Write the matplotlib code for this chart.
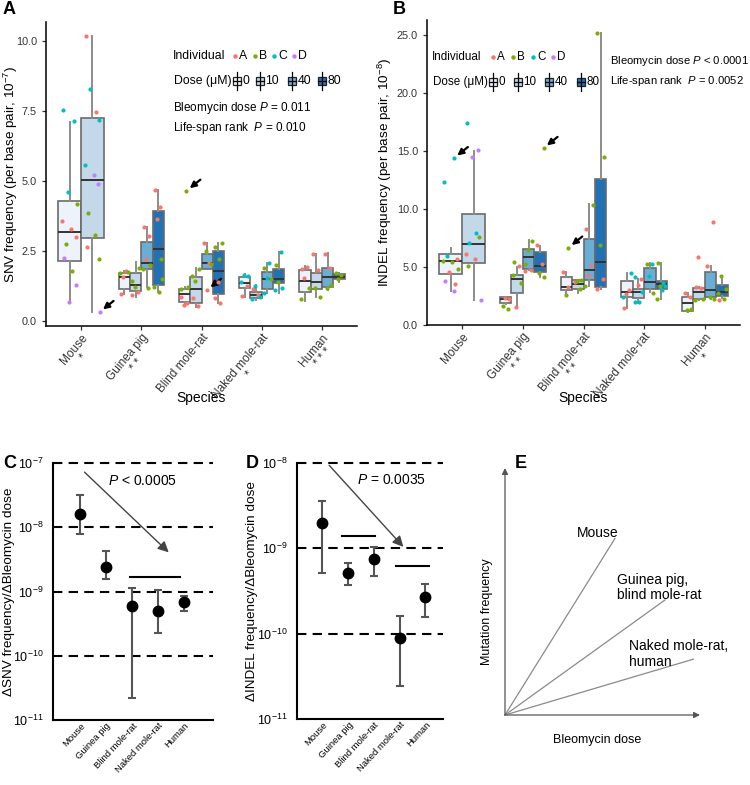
import math
import matplotlib
matplotlib.use('Agg')
import matplotlib.pyplot as plt
from matplotlib.patches import Rectangle
from matplotlib.ticker import NullLocator

plt.rcParams['font.family'] = ['Liberation Sans', 'DejaVu Sans']
plt.rcParams['mathtext.fontset'] = 'custom'
plt.rcParams['mathtext.rm'] = 'Liberation Sans'
plt.rcParams['mathtext.it'] = 'Liberation Sans:italic'
plt.rcParams['mathtext.bf'] = 'Liberation Sans:bold'

species = ['Mouse', 'Guinea pig', 'Blind mole-rat', 'Naked mole-rat', 'Human']
doses = [0, 10, 40, 80]
individuals = ['A', 'B', 'C', 'D']
ind_colors = ['#F8766D', '#7CAE00', '#00BFC4', '#C77CFF']
dose_colors = ['#EEF3FB', '#C3D8E8', '#6AAED6', '#2171B5']

snv_stars = ['*', '* *', '', '*', '* * *']
indel_stars = ['', '* *', '* *', '', '*']

# box stats per species, per dose: (whisker low, q1, median, q3, whisker high)
snv_box = [
    [(0.69, 2.13, 3.17, 4.27, 7.12), (0.33, 2.95, 5.04, 7.26, 10.18), None, None],
    [(0.95, 1.13, 1.58, 1.70, 1.80), (0.87, 1.08, 1.27, 1.73, 2.12), (1.23, 1.85, 2.08, 2.81, 3.37), (1.05, 1.29, 2.57, 3.94, 4.67)],
    [(0.57, 0.69, 0.95, 1.13, 1.20), (0.49, 0.63, 1.13, 1.56, 1.88), (1.85, 1.85, 2.08, 2.38, 2.77), (0.63, 0.95, 1.80, 2.50, 2.80)],
    [(0.87, 1.17, 1.35, 1.56, 1.67), (0.76, 0.81, 0.93, 1.05, 1.29), (0.99, 1.13, 1.49, 1.74, 2.06), (0.99, 1.35, 1.49, 1.85, 2.45)],
    [(0.71, 1.05, 1.43, 1.82, 1.98), (0.87, 1.13, 1.40, 1.70, 2.38), (1.11, 1.23, 1.56, 1.88, 2.42), (1.40, 1.49, 1.58, 1.67, 1.73)],
]
indel_box = [
    [(2.96, 4.38, 5.53, 6.10, 6.62), (2.16, 5.38, 6.99, 9.56, 15.0), None, None],
    [(1.80, 1.87, 2.22, 2.39, 2.45), (1.58, 2.74, 3.97, 4.32, 5.04), (4.70, 4.81, 5.90, 6.56, 7.34), (4.12, 4.60, 5.12, 6.33, 6.80)],
    [(2.59, 3.02, 3.25, 4.17, 4.60), (2.80, 3.08, 3.54, 3.89, 3.89), (3.37, 3.89, 4.75, 7.43, 10.42), (3.08, 3.26, 5.47, 12.58, 25.19)],
    [(1.44, 2.45, 2.82, 3.80, 4.52), (1.87, 2.30, 2.88, 3.11, 3.95), (2.88, 3.11, 3.69, 4.90, 5.33), (2.25, 3.08, 3.51, 3.80, 5.33)],
    [(1.15, 1.24, 1.87, 2.45, 2.74), (2.16, 2.22, 2.88, 3.22, 3.30), (2.22, 2.45, 3.02, 4.55, 5.10), (2.36, 2.53, 2.88, 3.45, 4.23)],
]

# points per species: (dose, individual, value)
snv_pts = [
    [(0, 'C', 7.54), (0, 'C', 7.15), (0, 'C', 4.62), (0, 'B', 4.18), (0, 'A', 3.56), (0, 'A', 3.30),
     (0, 'A', 3.00), (0, 'B', 2.75), (0, 'B', 1.80), (0, 'D', 2.24), (0, 'D', 1.29), (0, 'D', 0.69),
     (10, 'A', 10.19), (10, 'A', 7.46), (10, 'C', 8.27), (10, 'C', 7.18), (10, 'C', 5.57), (10, 'D', 5.21),
     (10, 'D', 4.88), (10, 'B', 3.85), (10, 'B', 3.08), (10, 'A', 2.65), (10, 'B', 2.21)],
    [(0, 'A', 0.95), (0, 'A', 1.80), (0, 'A', 1.56), (0, 'B', 1.74), (0, 'B', 1.70),
     (10, 'A', 0.93), (10, 'A', 1.05), (10, 'B', 1.20), (10, 'B', 1.88), (10, 'B', 1.44),
     (40, 'A', 3.37), (40, 'A', 3.04), (40, 'A', 2.20), (40, 'B', 2.00), (40, 'B', 1.85), (40, 'B', 1.19),
     (80, 'A', 4.67), (80, 'A', 4.06), (80, 'A', 3.65), (80, 'B', 1.50), (80, 'B', 1.20), (80, 'B', 1.04), (80, 'B', 2.20)],
    [(0, 'A', 0.87), (0, 'A', 0.63), (0, 'A', 0.57), (0, 'B', 1.20), (0, 'B', 1.13),
     (10, 'A', 0.81), (10, 'A', 0.54), (10, 'B', 1.44), (10, 'B', 1.86), (10, 'B', 1.62),
     (40, 'A', 2.78), (40, 'A', 2.08), (40, 'B', 2.51), (40, 'B', 2.04),
     (80, 'A', 0.81), (80, 'A', 0.65), (80, 'A', 1.40), (80, 'B', 2.78), (80, 'B', 2.63), (80, 'B', 2.21)],
    [(0, 'A', 0.89), (0, 'A', 1.26), (0, 'C', 1.64), (0, 'C', 1.62), (0, 'C', 1.40),
     (10, 'A', 1.14), (10, 'A', 0.93), (10, 'C', 1.26), (10, 'C', 0.85), (10, 'C', 0.80),
     (40, 'B', 1.88), (40, 'C', 2.06), (40, 'C', 1.52), (40, 'B', 1.50), (40, 'C', 0.99),
     (80, 'B', 2.00), (80, 'C', 2.45), (80, 'B', 1.40), (80, 'C', 1.17), (80, 'C', 1.10)],
    [(0, 'A', 1.86), (0, 'A', 1.94), (0, 'A', 1.52), (0, 'B', 1.17), (0, 'B', 0.79),
     (10, 'A', 2.38), (10, 'A', 1.82), (10, 'B', 1.17), (10, 'B', 0.87),
     (40, 'A', 2.38), (40, 'A', 1.90), (40, 'B', 1.17), (40, 'B', 1.27),
     (80, 'B', 1.70), (80, 'B', 1.65), (80, 'B', 1.50)],
]
indel_pts = [
    [(0, 'C', 12.32), (0, 'A', 3.54), (0, 'A', 4.60), (0, 'B', 4.84), (0, 'B', 5.53), (0, 'B', 5.40),
     (0, 'A', 5.70), (0, 'C', 5.96), (0, 'D', 2.96), (0, 'D', 3.80),
     (10, 'C', 17.39), (10, 'D', 15.05), (10, 'D', 14.48), (10, 'D', 2.16), (10, 'A', 6.13), (10, 'A', 5.67),
     (10, 'B', 7.57), (10, 'C', 7.06), (10, 'C', 7.92), (10, 'B', 5.10)],
    [(0, 'B', 1.64), (0, 'B', 1.38), (0, 'A', 2.33), (0, 'A', 2.20),
     (10, 'B', 5.42), (10, 'A', 5.10), (10, 'A', 1.58), (10, 'B', 3.60), (10, 'B', 4.32),
     (40, 'A', 4.63), (40, 'A', 4.77), (40, 'B', 6.50), (40, 'B', 7.28), (40, 'B', 5.27),
     (80, 'A', 6.88), (80, 'A', 5.22), (80, 'B', 4.50), (80, 'B', 4.10)],
    [(0, 'A', 4.60), (0, 'A', 3.25), (0, 'B', 2.59),
     (10, 'A', 3.69), (10, 'B', 3.08), (10, 'B', 3.80), (10, 'B', 3.89),
     (40, 'A', 8.26), (40, 'A', 5.20), (40, 'A', 4.32), (40, 'B', 10.39), (40, 'B', 3.40),
     (80, 'A', 3.11), (80, 'A', 4.00), (80, 'B', 6.93), (80, 'B', 14.45), (80, 'B', 25.19)],
    [(0, 'A', 1.44), (0, 'A', 3.02), (0, 'A', 2.65), (0, 'C', 4.46), (0, 'C', 2.45),
     (10, 'C', 4.12), (10, 'A', 3.97), (10, 'A', 3.45), (10, 'C', 2.88), (10, 'C', 2.01), (10, 'C', 1.95),
     (40, 'B', 5.27), (40, 'C', 5.27), (40, 'C', 4.20), (40, 'B', 2.74),
     (80, 'B', 5.38), (80, 'C', 3.66), (80, 'B', 3.37), (80, 'C', 3.40), (80, 'B', 2.25), (80, 'C', 3.00)],
    [(0, 'A', 2.74), (0, 'A', 2.45), (0, 'B', 1.29), (0, 'B', 1.38),
     (10, 'A', 3.25), (10, 'A', 3.15), (10, 'A', 5.90), (10, 'B', 2.25), (10, 'B', 2.16),
     (40, 'A', 5.10), (40, 'A', 8.84), (40, 'B', 2.45), (40, 'B', 2.27),
     (80, 'A', 2.16), (80, 'B', 2.25), (80, 'B', 4.23), (80, 'B', 3.11), (80, 'B', 2.80)],
]

# points pointed at by arrows: (species index, dose, individual, value)
snv_marked = [(0, 10, 'D', 0.32), (2, 0, 'B', 4.65), (2, 40, 'A', 1.11)]
indel_marked = [(0, 0, 'C', 14.39), (1, 80, 'B', 15.26), (2, 0, 'B', 6.67)]
snv_marked_shift = [0.33, 0.17, 0.0]
indel_marked_shift = [0.14, 0.33, 0.17]

# panels C and D: rate per bleomycin dose with error range
snv_rate = [1.58e-8, 2.4e-9, 5.9e-10, 5.0e-10, 6.8e-10]
snv_lo = [7.9e-9, 1.58e-9, 2.2e-11, 2.3e-10, 5.0e-10]
snv_hi = [3.2e-8, 4.3e-9, 1.14e-9, 1.06e-9, 8.4e-10]
indel_rate = [2.0e-9, 5.2e-10, 7.6e-10, 8.9e-11, 2.69e-10]
indel_lo = [5.2e-10, 3.75e-10, 4.8e-10, 2.46e-11, 1.57e-10]
indel_hi = [3.56e-9, 6.7e-10, 1.04e-9, 1.6e-10, 3.86e-10]

# panel E schematic
e_labels = ['Mouse', 'Guinea pig,\nblind mole-rat', 'Naked mole-rat,\nhuman']
e_end_x = [0.564, 0.821, 0.966]
e_end_y = [0.715, 0.466, 0.226]

W, H = 750, 785
fig = plt.figure(figsize=(7.5, 7.85), dpi=100)


def px_axes(l, t, r, b):
    return fig.add_axes([l / W, 1 - b / H, (r - l) / W, (b - t) / H])


jit = [-0.28, 0.18, -0.08, 0.32, -0.34, 0.06, 0.26, -0.18, 0.12, -0.24, 0.3, -0.02]


def box_panel(ax, boxes, pts, marked, shifts, stars, ylim, yticks):
    slot = {}
    for i in range(5):
        present = [d for k, d in enumerate(doses) if boxes[i][k] is not None]
        w = 0.75 / len(present)
        for k, d in enumerate(present):
            slot[(i, d)] = (i + 1 - 0.375 + w * (k + 0.5), w)
    for i in range(5):
        for k, d in enumerate(doses):
            st = boxes[i][k]
            if st is None:
                continue
            x, w = slot[(i, d)]
            lo, q1, med, q3, hi = st
            ax.bxp([dict(whislo=lo, q1=q1, med=med, q3=q3, whishi=hi, fliers=[])],
                   positions=[x], widths=[w], patch_artist=True, showcaps=False,
                   boxprops=dict(facecolor=dose_colors[k], edgecolor='#6b6b6b', lw=1.2),
                   whiskerprops=dict(color='#8c8c8c', lw=1.4),
                   medianprops=dict(color='#333333', lw=1.4), manage_ticks=False)
    for i in range(5):
        count = {}
        for d, ind, v in pts[i]:
            x, w = slot[(i, d)]
            n = count.get(d, 0)
            count[d] = n + 1
            ax.scatter(x + jit[n % len(jit)] * w, v, s=9, color=ind_colors[individuals.index(ind)],
                       zorder=5, lw=0)
    for (i, d, ind, v), sh in zip(marked, shifts):
        x, w = slot[(i, d)]
        x = x + sh * w
        ax.scatter(x, v, s=9, color=ind_colors[individuals.index(ind)], zorder=5, lw=0)
        ax.annotate('', xy=(x, v), xytext=(10, 8), textcoords='offset points',
                    xycoords='data',
                    arrowprops=dict(arrowstyle='-|>', color='black', lw=1.6,
                                    mutation_scale=9, shrinkA=0, shrinkB=3))
    ax.set_xlim(0.42, 5.58)
    ax.set_ylim(*ylim)
    ax.set_yticks(yticks)
    ax.set_yticklabels(['%.1f' % t for t in yticks], fontsize=7.8, color='#333333')
    ax.set_xticks(range(1, 6))
    labels = [s + ('\n' + st if st else '') for s, st in zip(species, stars)]
    ax.set_xticklabels(labels, rotation=50, ha='right', va='top', rotation_mode='anchor',
                       ma='center', fontsize=8.5, color='#333333', linespacing=1.0)
    for s in ['top', 'right']:
        ax.spines[s].set_visible(False)
    for s in ['left', 'bottom']:
        ax.spines[s].set_linewidth(1.1)
    ax.tick_params(length=3, width=0.9, color='#333333')
    ax.tick_params(axis='x', pad=1)
    ax.set_xlabel('Species', fontsize=10)
    ax.xaxis.set_label_coords(0.5, -0.215)


# ---- A
axA = px_axes(46, 22, 357, 326)
box_panel(axA, snv_box, snv_pts, snv_marked, snv_marked_shift, snv_stars, (-0.18, 10.68),
          [0.0, 2.5, 5.0, 7.5, 10.0])
axA.set_ylabel('SNV frequency (per base pair, 10$^{-7}$)', fontsize=9.7)
axA.yaxis.set_label_coords(-0.085, 0.5)

# ---- B
axB = px_axes(427, 20, 740, 325)
box_panel(axB, indel_box, indel_pts, indel_marked, indel_marked_shift, indel_stars, (0, 26.3),
          [0.0, 5.0, 10.0, 15.0, 20.0, 25.0])
axB.set_ylabel('INDEL frequency (per base pair, 10$^{-8}$)', fontsize=9.7)
axB.yaxis.set_label_coords(-0.104, 0.5)


# ---- C and D
def rate_panel(ax, rate, lo, hi, ylim, xlim, hlines, arrow, ptext):
    x = list(range(1, 6))
    e_lo, e_hi = round(math.log10(ylim[0])), round(math.log10(ylim[1]))
    for e in range(e_lo + 1, e_hi + 1):
        ax.axhline(10.0 ** e, color='black', lw=1.5, dashes=(4.5, 3), zorder=1, clip_on=False)
    yerr = [[r - l for r, l in zip(rate, lo)], [h - r for r, h in zip(rate, hi)]]
    ax.errorbar(x, rate, yerr=yerr, fmt='o', color='black', ms=7.5, ecolor='#555555',
                elinewidth=1.5, capsize=3, capthick=1.5, zorder=3)
    for x0, x1, y in hlines:
        ax.plot([x0, x1], [y, y], color='black', lw=1.5)
    (ax0, ay0), (ax1, ay1) = arrow
    ax.annotate('', xy=(ax1, ay1), xytext=(ax0, ay0),
                arrowprops=dict(arrowstyle='-|>', color='#444444', lw=1.0, mutation_scale=16,
                                shrinkA=0, shrinkB=0))
    ax.text(ptext[0], ptext[1], ptext[2], fontsize=10, ha='center', va='center')
    ax.set_yscale('log')
    ax.set_ylim(*ylim)
    ax.set_xlim(*xlim)
    ax.set_yticks([10.0 ** e for e in range(e_lo, e_hi + 1)])
    ax.yaxis.set_minor_locator(NullLocator())
    ax.set_xticks(x)
    ax.set_xticklabels(species, rotation=47, ha='right', va='top', rotation_mode='anchor',
                       fontsize=6.8)
    ax.tick_params(axis='y', labelsize=9, length=0, pad=7)
    ax.tick_params(axis='x', length=0, pad=1)
    for s in ['top', 'right']:
        ax.spines[s].set_visible(False)
    for s in ['left', 'bottom']:
        ax.spines[s].set_linewidth(1.5)


axC = px_axes(53, 463, 213, 720)
rate_panel(axC, snv_rate, snv_lo, snv_hi, (1e-11, 1e-7), (-0.04, 6.1),
           [(2.92, 4.85, 1.7e-9)], ((1.17, 7.2e-8), (4.4, 4.07e-9)),
           (3.4, 5.2e-8, '$P$ < 0.0005'))
axC.set_ylabel('\u0394SNV frequency/\u0394Bleomycin dose', fontsize=9.7)
axC.yaxis.set_label_coords(-0.24, 0.5)

axD = px_axes(297, 463, 443, 719)
rate_panel(axD, indel_rate, indel_lo, indel_hi, (1e-11, 1e-8), (0.01, 5.68),
           [(1.74, 3.04, 1.4e-9), (3.84, 5.14, 6.2e-10)], ((1.26, 9.4e-9), (4.14, 1.04e-9)),
           (3.69, 6.3e-9, '$P$ = 0.0035'))
axD.set_ylabel('\u0394INDEL frequency/\u0394Bleomycin dose', fontsize=9.7)
axD.yaxis.set_label_coords(-0.265, 0.5)

# ---- E
axE = px_axes(505, 468, 700, 715)
axE.set_xlim(0, 1)
axE.set_ylim(0, 1)
axE.axis('off')
for xe, ye in zip(e_end_x, e_end_y):
    axE.plot([0, xe], [0, ye], color='#8a8a8a', lw=0.9, clip_on=False)
for end in [(1, 0), (0, 1)]:
    axE.annotate('', xy=end, xytext=(0, 0),
                 arrowprops=dict(arrowstyle='-|>', color='#555555', lw=0.9, mutation_scale=9,
                                 shrinkA=0, shrinkB=0))
e_text_pos = [(0.368, 0.736), (0.573, 0.518), (0.636, 0.247)]
for lab, (tx, ty) in zip(e_labels, e_text_pos):
    axE.text(tx, ty, lab, fontsize=10, ha='left', va='center', linespacing=1.1)
axE.text(0.474, -0.1, 'Bleomycin dose', fontsize=9, ha='center', va='center')
axE.text(-0.094, 0.42, 'Mutation frequency', fontsize=9, ha='center', va='center', rotation=90)

# ---- overlay for legends and panel letters
ov = fig.add_axes([0, 0, 1, 1], zorder=10)
ov.set_xlim(0, W)
ov.set_ylim(H, 0)
ov.axis('off')
ov.patch.set_alpha(0)


def legend(x0, y_ind, ind_x, y_dose, dose_x, fs):
    ov.text(x0, y_ind, 'Individual', va='center', fontsize=fs)
    for k, c in enumerate(ind_colors):
        ov.plot(ind_x[k], y_ind, 'o', ms=3.2, color=c, mew=0)
        ov.text(ind_x[k] + 4, y_ind, individuals[k], va='center', fontsize=fs)
    ov.text(x0 + 1, y_dose, 'Dose (\u03bcM)', va='center', fontsize=fs)
    for k, c in enumerate(dose_colors):
        xk = dose_x[k]
        ov.plot([xk, xk], [y_dose - 9, y_dose + 9], color='black', lw=0.9)
        ov.add_patch(Rectangle((xk - 4, y_dose - 4), 8, 8, fc=c, ec='#222222', lw=0.9))
        ov.plot([xk - 4, xk + 4], [y_dose, y_dose], color='black', lw=0.9)
        ov.text(xk + 5.5, y_dose, str(doses[k]), va='center', fontsize=fs)


legend(173, 56, [235, 255, 274, 294], 81, [237, 260, 292, 322], 8.8)
ov.text(173, 108, 'Bleomycin dose $P$ = 0.011', va='center', fontsize=8.5)
ov.text(173, 128, 'Life-span rank  $P$ = 0.010', va='center', fontsize=8.5)

legend(432, 57, [493, 513, 533, 553], 82, [493, 518, 549, 581], 8.4)
ov.text(610, 61, 'Bleomycin dose $P$ < 0.0001', va='center', fontsize=8.1)
ov.text(610, 81, 'Life-span rank  $P$ = 0.0052', va='center', fontsize=8.1)

for lab, (lx, ly) in zip('ABCDE', [(3, 10), (393, 10), (3, 464), (246, 464), (515, 464)]):
    ov.text(lx, ly, lab, fontsize=13, fontweight='bold', va='center', ha='left')

fig.savefig('out.png', dpi=100)
